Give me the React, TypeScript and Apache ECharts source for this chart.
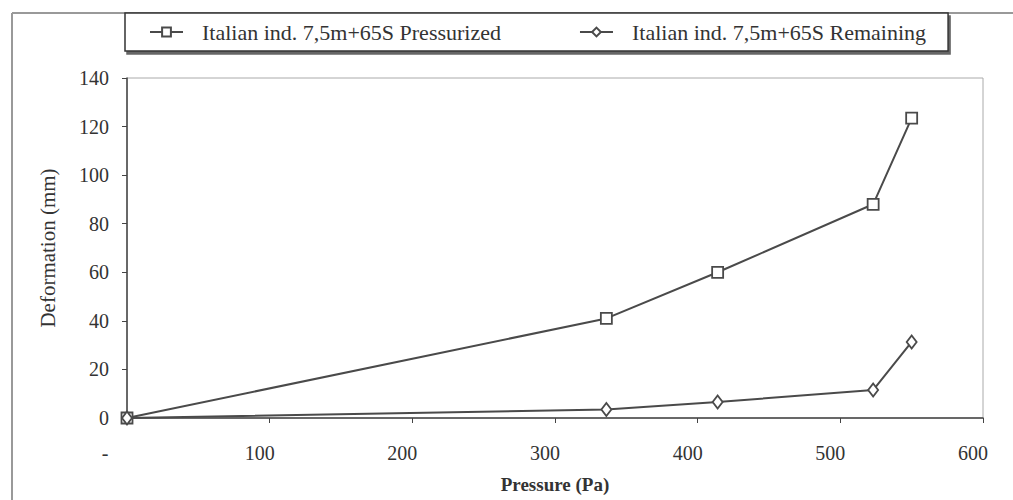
import React, { useEffect, useRef } from "react";
import * as echarts from "echarts";

const pressure = [0, 336, 414, 523, 550];
const pressurized = [0, 41, 60, 88, 123.5];
const remaining = [0, 3.5, 6.6, 11.5, 31.3];
const seriesNames = ["Italian ind. 7,5m+65S Pressurized", "Italian ind. 7,5m+65S Remaining"];
const xTitle = "Pressure (Pa)";
const yTitle = "Deformation (mm)";

const FONT = "Liberation Serif";

export default function App() {
  const ref = useRef<HTMLDivElement>(null);
  useEffect(() => {
    if (!ref.current) return;
    const chart = echarts.init(ref.current, undefined, { renderer: "svg" });
    const lineColor = "#4a4a4a";
    chart.setOption({
      animation: false,
      backgroundColor: "#fff",
      textStyle: { fontFamily: FONT, color: "#333" },
      graphic: [
        { type: "line", shape: { x1: 12, y1: 13, x2: 1013, y2: 13 }, style: { stroke: "#999", lineWidth: 2 }, z: -1 },
        { type: "line", shape: { x1: 12, y1: 13, x2: 12, y2: 500 }, style: { stroke: "#999", lineWidth: 2 }, z: -1 },
      ],
      legend: {
        left: 125,
        top: 13,
        padding: [8, 22, 8, 24],
        itemGap: 78,
        itemWidth: 33,
        itemHeight: 11,
        backgroundColor: "#fff",
        borderColor: "#333",
        borderWidth: 1.5,
        shadowColor: "rgba(0,0,0,0.6)",
        shadowOffsetX: 2,
        shadowOffsetY: 3,
        shadowBlur: 1,
        textStyle: { fontFamily: FONT, fontSize: 22, color: "#333", padding: [0, 0, 0, 14] },
      },
      grid: {
        left: 127,
        right: 30,
        top: 78,
        bottom: 82,
        show: true,
        borderColor: "#aaa",
        borderWidth: 1,
        containLabel: false,
        outerBoundsMode: "none",
      },
      xAxis: {
        type: "value",
        min: 0,
        max: 600,
        interval: 100,
        name: xTitle,
        nameLocation: "middle",
        nameGap: 57,
        nameTextStyle: { fontFamily: FONT, fontSize: 19, fontWeight: "bold", color: "#333" },
        axisLine: { lineStyle: { color: "#444", width: 1.5 } },
        axisTick: { show: true, length: 5, lineStyle: { color: "#444" } },
        splitLine: { show: false },
        axisLabel: {
          margin: 25,
          fontFamily: FONT,
          fontSize: 20,
          color: "#333",
          formatter: (v: number) => (v === 0 ? "{z|-}" : "{n|" + v + "}"),
          rich: {
            z: { fontFamily: FONT, fontSize: 20, color: "#333", padding: [0, 44, 0, 0] },
            n: { fontFamily: FONT, fontSize: 20, color: "#333", padding: [0, 20, 0, 0] },
          },
        },
      },
      yAxis: {
        type: "value",
        min: 0,
        max: 140,
        interval: 20,
        name: yTitle,
        nameLocation: "middle",
        nameGap: 69,
        nameTextStyle: { fontFamily: FONT, fontSize: 21, color: "#333" },
        axisLine: { show: true, lineStyle: { color: "#444", width: 1.5 } },
        axisTick: { show: true, length: 5, lineStyle: { color: "#444" } },
        splitLine: { show: false },
        axisLabel: { margin: 18, fontFamily: FONT, fontSize: 20, color: "#333" },
      },
      series: [
        {
          name: seriesNames[0],
          type: "line",
          data: pressure.map((p, i) => [p, pressurized[i]]),
          symbol: "rect",
          symbolSize: 11,
          lineStyle: { color: lineColor, width: 2 },
          itemStyle: { color: "#fff", borderColor: lineColor, borderWidth: 1.8 },
        },
        {
          name: seriesNames[1],
          type: "line",
          data: pressure.map((p, i) => [p, remaining[i]]),
          symbol: "diamond",
          symbolSize: [10, 13],
          lineStyle: { color: lineColor, width: 2 },
          itemStyle: { color: "#fff", borderColor: lineColor, borderWidth: 1.8 },
        },
      ],
    });
    return () => chart.dispose();
  }, []);
  return (
    <div
      ref={ref}
      style={{ position: "fixed", left: 0, top: 0, width: 1013, height: 500 }}
    />
  );
}
